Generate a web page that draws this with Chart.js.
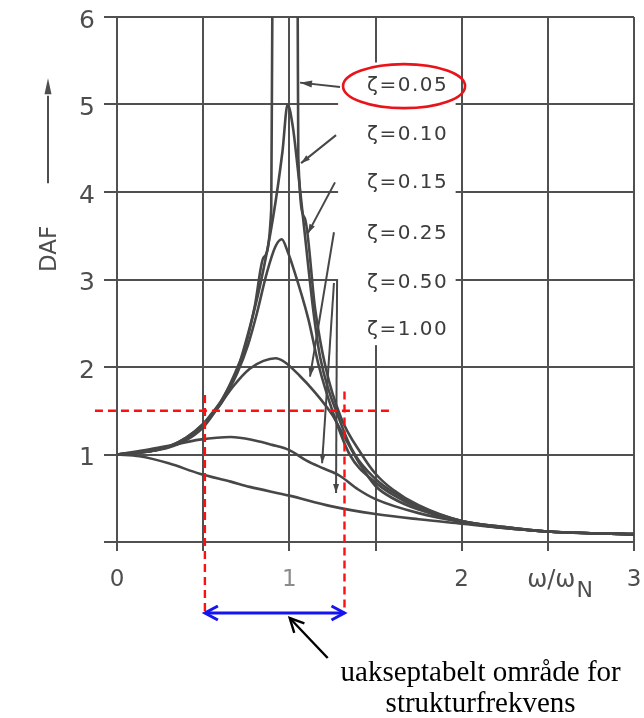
<!DOCTYPE html>
<html>
<head>
<meta charset="utf-8">
<title>DAF</title>
<script src="https://cdn.jsdelivr.net/npm/chart.js@4.4.1/dist/chart.umd.min.js"></script>
<style>
  html, body { margin: 0; padding: 0; background: #ffffff; }
  canvas { display: block; }
</style>
</head>
<body>
<canvas id="daf" width="644" height="718"></canvas>
<script>
// Frequency ratio ω/ωN and dynamic amplification factor for each damping ratio ζ
const ratio05 = [0, 0.2, 0.3, 0.4, 0.5, 0.55, 0.6, 0.65, 0.7, 0.74, 0.8, 0.85, 0.895, 0.902, 0.95, 1.0, 1.03, 1.048, 1.052, 1.09, 1.15, 1.21, 1.3, 1.42, 1.5, 1.6, 1.75, 2.0, 2.25, 2.5, 2.75, 3.0];
const daf05   = [1.00, 1.04, 1.09, 1.19, 1.35, 1.47, 1.60, 1.78, 2.00, 2.20, 2.70, 3.25, 3.80, 6.30, 9.00, 10.0, 9.00, 6.30, 4.40, 3.70, 2.66, 2.00, 1.42, 1.00, 0.78, 0.60, 0.42, 0.24, 0.17, 0.12, 0.10, 0.09];

const ratio10 = [0, 0.2, 0.3, 0.4, 0.5, 0.55, 0.6, 0.65, 0.7, 0.77, 0.83, 0.905, 0.96, 0.99, 1.02, 1.045, 1.08, 1.14, 1.18, 1.3, 1.38, 1.5, 1.6, 1.75, 2.0, 2.25, 2.5, 2.75, 3.0];
const daf10   = [1.00, 1.04, 1.09, 1.19, 1.35, 1.46, 1.59, 1.77, 1.98, 2.45, 2.93, 3.70, 4.46, 5.00, 4.75, 4.34, 3.70, 2.63, 2.10, 1.35, 1.00, 0.72, 0.57, 0.41, 0.24, 0.17, 0.12, 0.10, 0.09];

const ratio15 = [0, 0.2, 0.3, 0.4, 0.5, 0.55, 0.6, 0.65, 0.7, 0.76, 0.81, 0.87, 0.92, 0.956, 0.99, 1.02, 1.11, 1.17, 1.25, 1.35, 1.5, 1.6, 1.75, 2.0, 2.25, 2.5, 2.75, 3.0];
const daf15   = [1.00, 1.04, 1.09, 1.18, 1.34, 1.45, 1.57, 1.74, 1.94, 2.25, 2.60, 3.08, 3.38, 3.46, 3.32, 3.15, 2.55, 2.02, 1.50, 1.00, 0.68, 0.54, 0.39, 0.24, 0.17, 0.12, 0.10, 0.09];

const ratio25 = [0, 0.2, 0.3, 0.4, 0.5, 0.58, 0.675, 0.77, 0.85, 0.92, 0.97, 1.06, 1.14, 1.25, 1.32, 1.4, 1.5, 1.6, 1.75, 2.0, 2.25, 2.5, 2.75, 3.0];
const daf25   = [1.00, 1.04, 1.08, 1.16, 1.31, 1.52, 1.78, 1.98, 2.07, 2.10, 2.06, 1.90, 1.73, 1.45, 1.20, 0.92, 0.64, 0.50, 0.37, 0.23, 0.16, 0.12, 0.10, 0.09];

const ratio50 = [0, 0.19, 0.3, 0.48, 0.66, 0.8, 0.9, 1.0, 1.1, 1.2, 1.29, 1.4, 1.5, 1.75, 2.0, 2.25, 2.5, 2.75, 3.0];
const daf50   = [1.00, 1.06, 1.10, 1.17, 1.20, 1.16, 1.11, 1.05, 0.93, 0.84, 0.76, 0.60, 0.49, 0.33, 0.23, 0.16, 0.12, 0.10, 0.09];

const ratio100 = [0, 0.13, 0.3, 0.48, 0.66, 0.77, 1.0, 1.24, 1.5, 1.75, 2.0, 2.25, 2.5, 2.75, 3.0];
const daf100   = [1.00, 0.98, 0.90, 0.78, 0.69, 0.63, 0.53, 0.41, 0.32, 0.26, 0.21, 0.16, 0.12, 0.10, 0.09];

// Damping labels, in drawing order, and the DAF level of each label row
const dampingLabels = ['ζ=0.05', 'ζ=0.10', 'ζ=0.15', 'ζ=0.25', 'ζ=0.50', 'ζ=1.00'];
const labelRowDaf   = [5.21, 4.65, 4.11, 3.52, 2.96, 2.43];
const labelColumnRatio = 1.451;

// Leader lines from the labels to the curves: [ratioFrom, dafFrom, ratioTo, dafTo]
const leaders = [
  [1.294, 5.20, 1.062, 5.25],
  [1.271, 4.65, 1.068, 4.33],
  [1.265, 4.11, 1.108, 3.53],
  [1.259, 3.54, 1.120, 1.89],
  [1.259, 2.96, 1.190, 0.90],
  [1.277, 2.99, 1.271, 0.56]
];

// Blank panel behind the labels: [ratioMin, ratioMax, dafMin, dafMax]
const labelPanel = [1.283, 1.965, 2.25, 5.48];

// Axis ticks
const xTickValues = [0, 0.5, 1, 1.5, 2, 2.5, 3];
const yTickValues = [0, 1, 2, 3, 4, 5, 6];

// Unacceptable structural frequency band and the DAF limit
const bandRatio = [0.51, 1.32];
const dafLimit = 1.5;
const limitLineRatio = [-0.128, 1.584];
const bandTopDaf = [1.68, 1.72];

const ink = '#474747';
const gridInk = '#505050';
const labelInk = '#4e4e4e';
const sans = '"DejaVu Sans", "Noto Sans", sans-serif';

function toPoints(xs, ys) { return xs.map((x, i) => ({ x: x, y: ys[i] })); }

function curve(label, xs, ys) {
  return {
    label: label,
    data: toPoints(xs, ys),
    borderColor: ink,
    borderWidth: 2.6,
    pointRadius: 0,
    fill: false,
    cubicInterpolationMode: 'monotone'
  };
}

function filledHead(ctx, x0, y0, x1, y1, len, half) {
  const a = Math.atan2(y1 - y0, x1 - x0);
  const c = Math.cos(a), s = Math.sin(a);
  ctx.beginPath();
  ctx.moveTo(x1, y1);
  ctx.lineTo(x1 - len * c + half * s, y1 - len * s - half * c);
  ctx.lineTo(x1 - len * c - half * s, y1 - len * s + half * c);
  ctx.closePath();
  ctx.fill();
}

function openHead(ctx, x0, y0, x1, y1, len, half) {
  const a = Math.atan2(y1 - y0, x1 - x0);
  const c = Math.cos(a), s = Math.sin(a);
  ctx.beginPath();
  ctx.moveTo(x1 - len * c + half * s, y1 - len * s - half * c);
  ctx.lineTo(x1, y1);
  ctx.lineTo(x1 - len * c - half * s, y1 - len * s + half * c);
  ctx.stroke();
}

const decorations = {
  id: 'decorations',
  beforeDatasetsDraw(chart) {
    const { ctx, scales: { x, y } } = chart;
    ctx.save();
    ctx.fillStyle = '#ffffff';
    const l = x.getPixelForValue(labelPanel[0]);
    const r = x.getPixelForValue(labelPanel[1]);
    const b = y.getPixelForValue(labelPanel[2]);
    const t = y.getPixelForValue(labelPanel[3]);
    ctx.fillRect(l, t, r - l, b - t);
    ctx.restore();
  },
  afterDraw(chart) {
    const { ctx, chartArea, scales: { x, y } } = chart;
    const X = v => x.getPixelForValue(v);
    const Y = v => y.getPixelForValue(v);
    ctx.save();

    // leader lines
    ctx.strokeStyle = ink;
    ctx.fillStyle = ink;
    ctx.lineWidth = 2;
    leaders.forEach(([r0, d0, r1, d1], i) => {
      const x0 = X(r0), y0 = Y(d0), x1 = X(r1), y1 = Y(d1);
      ctx.beginPath();
      ctx.moveTo(x0, y0);
      ctx.lineTo(x1, y1);
      ctx.stroke();
      filledHead(ctx, x0, y0, x1, y1, i === 0 ? 12 : 9, i === 0 ? 3.5 : 3);
    });

    // damping labels
    ctx.fillStyle = '#3c3c3c';
    ctx.font = '20px ' + sans;
    ctx.textAlign = 'left';
    ctx.textBaseline = 'middle';
    if ('letterSpacing' in ctx) ctx.letterSpacing = '1.5px';
    dampingLabels.forEach((t, i) => ctx.fillText(t, X(labelColumnRatio), Y(labelRowDaf[i])));
    if ('letterSpacing' in ctx) ctx.letterSpacing = '0px';

    // highlight ring around the lightest damping
    ctx.strokeStyle = '#e8141a';
    ctx.lineWidth = 2.6;
    ctx.beginPath();
    ctx.ellipse(X(labelColumnRatio) + 37, Y(labelRowDaf[0]), 61, 22, 0, 0, Math.PI * 2);
    ctx.stroke();

    // y-axis title with upward arrow
    const titleX = chartArea.left - 69;
    ctx.fillStyle = labelInk;
    ctx.strokeStyle = labelInk;
    ctx.save();
    ctx.translate(titleX + 2, Y(3.35));
    ctx.rotate(-Math.PI / 2);
    ctx.font = '23px ' + sans;
    ctx.textAlign = 'center';
    ctx.textBaseline = 'middle';
    ctx.fillText('DAF', 0, 0);
    ctx.restore();
    ctx.lineWidth = 2;
    ctx.beginPath();
    ctx.moveTo(titleX, Y(4.1));
    ctx.lineTo(titleX, Y(5.1));
    ctx.stroke();
    filledHead(ctx, titleX, Y(4.1), titleX, Y(5.3), 16, 3.5);

    // x-axis title ω/ωN
    ctx.textAlign = 'left';
    ctx.textBaseline = 'alphabetic';
    ctx.font = '24px ' + sans;
    const tx = X(2.38);
    const tb = chartArea.bottom + 45;
    ctx.fillText('ω/ω', tx, tb);
    const w = ctx.measureText('ω/ω').width;
    ctx.font = '22px ' + sans;
    ctx.fillText('N', tx + w + 1, tb + 10);

    // DAF limit and unacceptable band
    const arrowY = chartArea.bottom + 71;
    ctx.strokeStyle = '#ff1010';
    ctx.lineWidth = 2.4;
    ctx.setLineDash([8, 5]);
    ctx.beginPath();
    ctx.moveTo(X(limitLineRatio[0]), Y(dafLimit));
    ctx.lineTo(X(limitLineRatio[1]), Y(dafLimit));
    ctx.stroke();
    bandRatio.forEach((r, i) => {
      ctx.beginPath();
      ctx.moveTo(X(r), Y(bandTopDaf[i]));
      ctx.lineTo(X(r), arrowY);
      ctx.stroke();
    });
    ctx.setLineDash([]);

    // double arrow spanning the band
    ctx.strokeStyle = '#1515f0';
    ctx.lineWidth = 3;
    const bx0 = X(bandRatio[0]), bx1 = X(bandRatio[1]);
    ctx.beginPath();
    ctx.moveTo(bx0, arrowY);
    ctx.lineTo(bx1, arrowY);
    ctx.stroke();
    openHead(ctx, bx1, arrowY, bx0, arrowY, 13, 7);
    openHead(ctx, bx0, arrowY, bx1, arrowY, 13, 7);

    // pointer to the band and its caption
    ctx.strokeStyle = '#000000';
    ctx.lineWidth = 2.4;
    const px1 = (bx0 + bx1) / 2 + 15, py1 = arrowY + 5;
    const px0 = px1 + 38, py0 = py1 + 40;
    ctx.beginPath();
    ctx.moveTo(px0, py0);
    ctx.lineTo(px1, py1);
    ctx.stroke();
    openHead(ctx, px0, py0, px1, py1, 14, 7);

    ctx.fillStyle = '#000000';
    ctx.font = '29px "Liberation Serif", "Times New Roman", serif';
    ctx.textAlign = 'center';
    ctx.textBaseline = 'alphabetic';
    const cx = X(2.11);
    ctx.fillText('uakseptabelt område for', cx, chartArea.bottom + 139);
    ctx.fillText('strukturfrekvens', cx, chartArea.bottom + 170);

    ctx.restore();
  }
};

new Chart(document.getElementById('daf'), {
  type: 'line',
  data: {
    datasets: [
      curve('ζ=0.05', ratio05, daf05),
      curve('ζ=0.10', ratio10, daf10),
      curve('ζ=0.15', ratio15, daf15),
      curve('ζ=0.25', ratio25, daf25),
      curve('ζ=0.50', ratio50, daf50),
      curve('ζ=1.00', ratio100, daf100)
    ]
  },
  options: {
    responsive: false,
    animation: false,
    devicePixelRatio: 1,
    layout: { padding: { top: 17, right: 10, bottom: 0, left: 0 } },
    plugins: { legend: { display: false }, tooltip: { enabled: false } },
    scales: {
      x: {
        type: 'linear',
        min: 0,
        max: 3,
        afterFit(scale) {
          scale.height = 176;
          scale.paddingLeft = 0;
          scale.paddingRight = 0;
        },
        afterBuildTicks(scale) { scale.ticks = xTickValues.map(v => ({ value: v })); },
        grid: { color: gridInk, lineWidth: 2, tickLength: 9, drawTicks: true },
        border: { color: gridInk, width: 2 },
        ticks: {
          autoSkip: false,
          maxRotation: 0,
          padding: 15,
          font: { family: sans, size: 23 },
          color: c => (c.tick && c.tick.value === 1) ? '#8c8c8c' : labelInk,
          callback: v => Number.isInteger(v) ? String(v) : ''
        }
      },
      y: {
        min: 0,
        max: 6,
        afterFit(scale) {
          scale.width = 117;
          scale.paddingTop = 0;
          scale.paddingBottom = 0;
        },
        afterBuildTicks(scale) { scale.ticks = yTickValues.map(v => ({ value: v })); },
        grid: { color: gridInk, lineWidth: 2, tickLength: 13, drawTicks: true },
        border: { color: gridInk, width: 2 },
        ticks: {
          padding: 9,
          labelOffset: 4,
          font: { family: sans, size: 25 },
          color: labelInk,
          callback: v => v === 0 ? '' : String(v)
        }
      }
    }
  },
  plugins: [decorations]
});
</script>
</body>
</html>
